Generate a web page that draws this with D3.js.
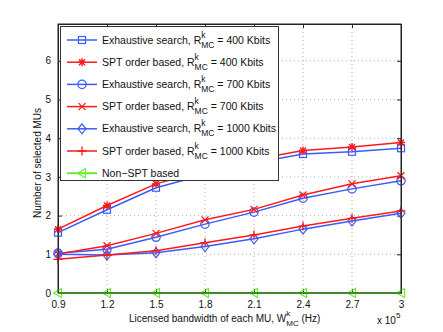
<!DOCTYPE html>
<html>
<head>
<meta charset="utf-8">
<script src="https://cdn.jsdelivr.net/npm/d3@7"></script>
<style>
  body { margin: 0; background: #fff; }
  text { font-family: "Liberation Sans", Arial, sans-serif; }
</style>
</head>
<body>
<script>
// bandwidth values (x 10^5 Hz)
const bandwidth = [0.9, 1.2, 1.5, 1.8, 2.1, 2.4, 2.7, 3.0];

const exhaustive400 = [1.56, 2.15, 2.72, 3.06, 3.36, 3.59, 3.65, 3.74];
const spt400 = [1.65, 2.26, 2.82, 3.16, 3.45, 3.68, 3.77, 3.89];
const exhaustive700 = [1.03, 1.13, 1.44, 1.78, 2.09, 2.45, 2.69, 2.90];
const spt700 = [1.01, 1.22, 1.54, 1.89, 2.16, 2.53, 2.82, 3.03];
const exhaustive1000 = [1.00, 0.98, 1.04, 1.20, 1.40, 1.65, 1.86, 2.06];
const spt1000 = [0.87, 0.98, 1.09, 1.30, 1.50, 1.73, 1.93, 2.12];
const nonSpt = [0, 0, 0, 0, 0, 0, 0, 0];

const xTicks = [0.9, 1.2, 1.5, 1.8, 2.1, 2.4, 2.7, 3];
const yTicks = [0, 1, 2, 3, 4, 5, 6];

const blue = "#3a5cff", red = "#ff1a1a", green = "#66ee33";

const series = [
  { pre: "Exhaustive search, R", post: "\u00a0= 400 Kbits", values: exhaustive400, color: blue, marker: "square" },
  { pre: "SPT order based, R", post: "\u00a0= 400 Kbits", values: spt400, color: red, marker: "star" },
  { pre: "Exhaustive search, R", post: "\u00a0= 700 Kbits", values: exhaustive700, color: blue, marker: "circle" },
  { pre: "SPT order based, R", post: "\u00a0= 700 Kbits", values: spt700, color: red, marker: "cross" },
  { pre: "Exhaustive search, R", post: "\u00a0= 1000 Kbits", values: exhaustive1000, color: blue, marker: "diamond" },
  { pre: "SPT order based, R", post: "\u00a0= 1000 Kbits", values: spt1000, color: red, marker: "plus" },
  { pre: "Non\u2212SPT based", post: null, values: nonSpt, color: green, marker: "triangle" }
];

const W = 443, H = 332;
const pLeft = 58, pRight = 401, pTop = 24, pBottom = 293;

let svg = d3.select("body").append("svg")
  .attr("width", W)
  .attr("height", H);

const x = d3.scaleLinear().domain([0.9, 3]).range([pLeft, pRight]);
const y = d3.scaleLinear().domain([0, 6.95]).range([pBottom, pTop]);

// dotted grid
svg.append("g").selectAll("line")
  .data(xTicks.slice(1, -1))
  .enter().append("line")
    .attr("x1", d => x(d)).attr("x2", d => x(d))
    .attr("y1", pTop).attr("y2", pBottom)
    .attr("stroke", "#b0b0b0")
    .attr("stroke-dasharray", "1,3");

svg.append("g").selectAll("line")
  .data(yTicks.slice(1))
  .enter().append("line")
    .attr("x1", pLeft).attr("x2", pRight)
    .attr("y1", d => y(d)).attr("y2", d => y(d))
    .attr("stroke", "#b0b0b0")
    .attr("stroke-dasharray", "1,3");

// axes, ticks pointing inward like matlab
const fmtX = d => d === 3 ? "3" : d3.format(".1f")(d);
svg.append("g")
  .attr("transform", `translate(0,${pBottom})`)
  .call(d3.axisBottom(x).tickValues(xTicks).tickSizeInner(-4).tickSizeOuter(0).tickPadding(8).tickFormat(fmtX));
svg.append("g")
  .attr("transform", `translate(0,${pTop})`)
  .call(d3.axisTop(x).tickValues(xTicks).tickSizeInner(-4).tickSizeOuter(0).tickFormat(""));
svg.append("g")
  .attr("transform", `translate(${pLeft},0)`)
  .call(d3.axisLeft(y).tickValues(yTicks).tickSizeInner(-4).tickSizeOuter(0).tickPadding(7).tickFormat(d3.format("d")));
svg.append("g")
  .attr("transform", `translate(${pRight},0)`)
  .call(d3.axisRight(y).tickValues(yTicks).tickSizeInner(-4).tickSizeOuter(0).tickFormat(""));

svg.selectAll(".domain").attr("stroke", "#222");
svg.selectAll(".tick line").attr("stroke", "#222");
svg.selectAll(".tick text")
  .attr("font-family", "Liberation Sans, Arial, sans-serif")
  .attr("font-size", "10px")
  .attr("fill", "#111");

// markers
function drawMarker(g, type, color) {
  if (type === "square") {
    g.append("rect").attr("x", -3.5).attr("y", -3.5).attr("width", 7).attr("height", 7)
      .attr("fill", "none").attr("stroke", color).attr("stroke-width", 1.2);
  } else if (type === "circle") {
    g.append("circle").attr("r", 4.2)
      .attr("fill", "none").attr("stroke", color).attr("stroke-width", 1.2);
  } else if (type === "diamond") {
    g.append("path").attr("d", "M0,-5L4,0L0,5L-4,0Z")
      .attr("fill", "none").attr("stroke", color).attr("stroke-width", 1.2);
  } else if (type === "triangle") {
    g.append("path").attr("d", "M-4.5,0L3.5,-4.5L3.5,4.5Z")
      .attr("fill", "none").attr("stroke", color).attr("stroke-width", 1.2);
  } else if (type === "plus") {
    g.append("path").attr("d", "M-4.5,0H4.5M0,-4.5V4.5")
      .attr("stroke", color).attr("stroke-width", 1.3);
  } else if (type === "cross") {
    g.append("path").attr("d", "M-3.5,-3.5L3.5,3.5M-3.5,3.5L3.5,-3.5")
      .attr("stroke", color).attr("stroke-width", 1.3);
  } else if (type === "star") {
    g.append("path").attr("d", "M-4,0H4M0,-4V4M-3,-3L3,3M-3,3L3,-3")
      .attr("stroke", color).attr("stroke-width", 1.4);
  }
}

const line = d3.line()
  .x((d, i) => x(bandwidth[i]))
  .y(d => y(d));

series.forEach(s => {
  svg.append("path")
    .datum(s.values)
    .attr("d", line)
    .attr("fill", "none")
    .attr("stroke", s.color)
    .attr("stroke-width", s.marker === "triangle" ? 2 : 1.5);

  s.values.forEach((v, i) => {
    let g = svg.append("g").attr("transform", `translate(${x(bandwidth[i])},${y(v)})`);
    drawMarker(g, s.marker, s.color);
  });
});

// frame on top
svg.append("rect")
  .attr("x", pLeft).attr("y", pTop)
  .attr("width", pRight - pLeft).attr("height", pBottom - pTop)
  .attr("fill", "none")
  .attr("stroke", "#222");

// text with stacked super/subscript, like R^k_MC
function stackedLabel(parent, px, py, pre, post, size) {
  let t1 = parent.append("text")
    .attr("x", px).attr("y", py)
    .attr("font-size", size + "px")
    .attr("fill", "#111")
    .text(pre);
  let cx = px + t1.node().getComputedTextLength();
  let k = parent.append("text")
    .attr("x", cx).attr("y", py - 6)
    .attr("font-size", (size - 2) + "px")
    .attr("fill", "#111")
    .text("k");
  let mc = parent.append("text")
    .attr("x", cx).attr("y", py + 4)
    .attr("font-size", (size - 2) + "px")
    .attr("fill", "#111")
    .text("MC");
  let w = Math.max(k.node().getComputedTextLength(), mc.node().getComputedTextLength());
  parent.append("text")
    .attr("x", cx + w).attr("y", py)
    .attr("font-size", size + "px")
    .attr("fill", "#111")
    .text(post);
}

// legend
const legend = svg.append("g");
legend.append("rect")
  .attr("x", 60.5).attr("y", 26.5)
  .attr("width", 218).attr("height", 154)
  .attr("fill", "white")
  .attr("stroke", "#333");

series.forEach((s, i) => {
  const ly = 40 + i * 22.2;
  legend.append("line")
    .attr("x1", 67).attr("x2", 97)
    .attr("y1", ly).attr("y2", ly)
    .attr("stroke", s.color)
    .attr("stroke-width", s.marker === "triangle" ? 2 : 1.5);
  drawMarker(legend.append("g").attr("transform", `translate(82,${ly})`), s.marker, s.color);
  if (s.post) {
    stackedLabel(legend, 102, ly + 3.5, s.pre, s.post, 10.5);
  } else {
    legend.append("text")
      .attr("x", 102).attr("y", ly + 3.5)
      .attr("font-size", "10.5px")
      .attr("fill", "#111")
      .text(s.pre);
  }
});

// axis titles
svg.append("text")
  .attr("x", -163)
  .attr("y", 41)
  .attr("transform", "rotate(-90)")
  .attr("text-anchor", "middle")
  .attr("font-size", "10px")
  .attr("fill", "#111")
  .text("Number of selected MUs");

const xt = svg.append("g");
stackedLabel(xt, 129, 322, "Licensed bandwidth of each MU, W", "\u00a0(Hz)", 10);

const sc = svg.append("text")
  .attr("x", 377).attr("y", 324)
  .attr("font-size", "10px")
  .attr("fill", "#111");
sc.append("tspan").text("x 10");
sc.append("tspan").attr("dy", -6).attr("font-size", "8px").text("5");
</script>
</body>
</html>
